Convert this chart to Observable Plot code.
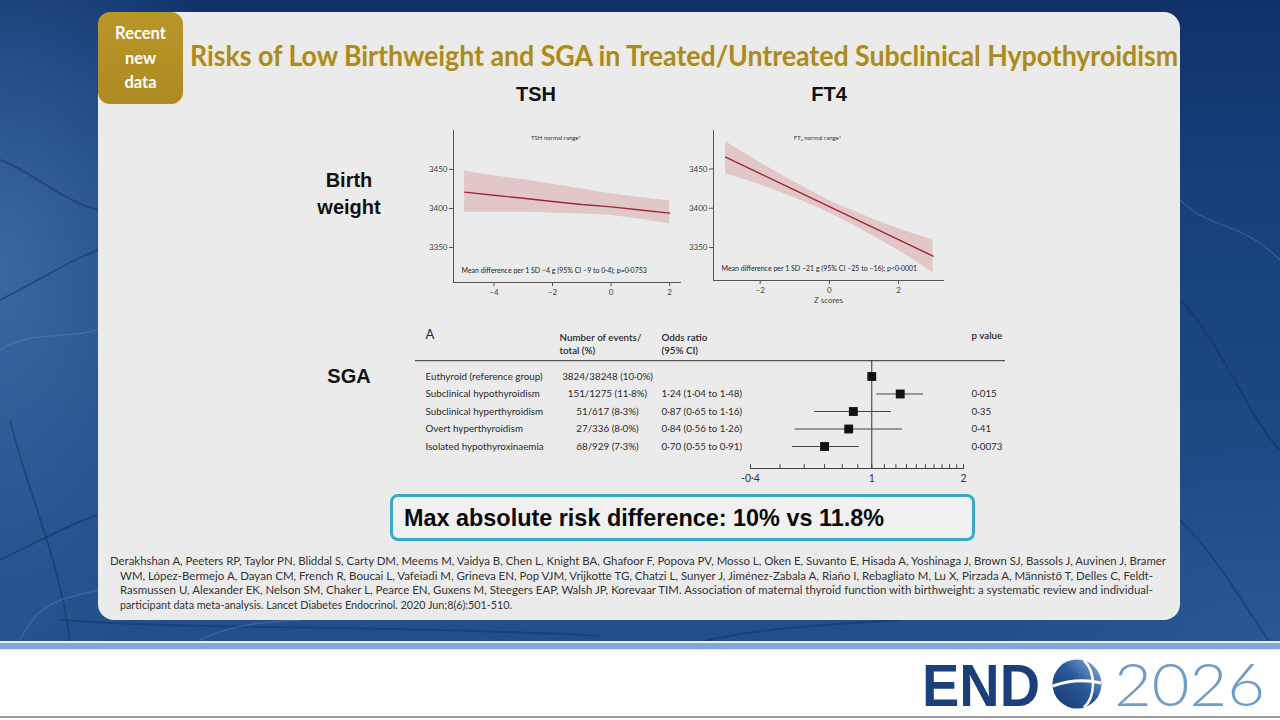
<!DOCTYPE html>
<html><head><meta charset="utf-8">
<script src="https://cdn.jsdelivr.net/npm/d3@7"></script>
<script src="https://cdn.jsdelivr.net/npm/@observablehq/plot@0.6"></script>
<style>
html,body{margin:0;padding:0;width:1280px;height:720px;overflow:hidden;background:#fff;}
body{position:relative;font-family:Lato,"Open Sans",sans-serif;}
.abs{position:absolute;}
#bg{left:0;top:0;width:1280px;height:642px;
 background:
  radial-gradient(ellipse 260px 420px at 0% 42%, rgba(70,115,175,0.75) 0%, rgba(60,100,160,0) 100%),
  radial-gradient(ellipse 300px 200px at 100% 100%, rgba(50,95,160,0.5) 0%, rgba(50,95,160,0) 100%),
  linear-gradient(180deg,#0f3268 0%,#17407a 30%,#1d4985 70%,#22508d 100%);}
#stripeW{left:0;top:641px;width:1280px;height:2px;background:#e8f0fa;}
#stripe{left:0;top:643px;width:1280px;height:6px;background:#7fa7d8;}
#stripeW2{left:0;top:649px;width:1280px;height:1px;background:#dfe9f5;}
#foot{left:0;top:716px;width:1280px;height:2px;background:#9a9a9a;}
#panel{left:98px;top:12px;width:1082px;height:608px;background:#ebebeb;border-radius:16px;}
#badge{left:98px;top:12px;width:85px;height:92px;border-radius:12px;
 background:linear-gradient(180deg,#b99628 0%,#ad8b21 100%);color:#fff;font-weight:700;
 font-size:16.5px;line-height:24.5px;text-align:center;box-sizing:border-box;padding-top:9px;}
.fit{white-space:nowrap;display:inline-block;transform-origin:left center;}
#title{left:190px;top:38px;font-weight:700;font-size:28px;color:#a88a2b;line-height:34px;
 text-shadow:0 0 2px rgba(255,235,140,0.9);}
.hd{font-family:"Liberation Sans",Arial,sans-serif;font-weight:700;font-size:20px;color:#111;text-align:center;}
#box{left:390px;top:494px;width:585px;height:47px;box-sizing:border-box;border:3.5px solid #38a9c7;border-radius:8px;background:#f1f1f1;}
#boxtxt{left:404px;top:504px;font-family:"Liberation Sans",Arial,sans-serif;font-weight:700;font-size:24px;color:#0a0a0a;line-height:28px;}
.cite{font-size:11.6px;color:#333;line-height:14px;}
</style></head>
<body>
<div id="bg" class="abs"></div>
<svg class="abs" style="left:0;top:0" width="1280" height="642" viewBox="0 0 1280 642">
 <g fill="none" stroke="#0f2f60" stroke-opacity="0.45" stroke-width="2">
  <path d="M0 300 C40 280 70 260 98 250"/>
  <path d="M10 420 C30 500 60 560 70 642"/>
  <path d="M0 560 C40 540 80 520 98 515"/>
  <path d="M60 620 C200 630 400 625 600 636"/>
  <path d="M700 642 C760 628 820 625 900 620"/>
  <path d="M1180 300 C1220 340 1250 420 1280 450"/>
  <path d="M1180 520 C1220 560 1240 600 1270 642"/>
  <path d="M0 160 C30 170 60 200 98 210"/>
 </g>
 <g fill="none" stroke="#6d95c8" stroke-opacity="0.3" stroke-width="1.5">
  <path d="M0 350 C30 330 60 340 98 330"/>
  <path d="M20 640 C40 600 60 600 98 590"/>
  <path d="M1180 200 C1210 230 1240 220 1280 260"/>
  <path d="M200 640 C230 625 260 622 300 620"/>
 </g>
</svg>
<div id="stripeW" class="abs"></div>
<div id="stripe" class="abs"></div>
<div id="stripeW2" class="abs"></div>
<div id="foot" class="abs"></div>
<div id="panel" class="abs"></div>
<div id="badge" class="abs">Recent<br>new<br>data</div>
<div id="title" class="abs"><span class="fit" data-w="988">Risks of Low Birthweight and SGA in Treated/Untreated Subclinical Hypothyroidism</span></div>

<div class="abs hd" style="left:486px;top:83px;width:100px;">TSH</div>
<div class="abs hd" style="left:779px;top:83px;width:100px;">FT4</div>
<div class="abs hd" style="left:289px;top:167px;width:120px;line-height:27px;">Birth<br>weight</div>
<div class="abs hd" style="left:289px;top:365px;width:120px;">SGA</div>

<div id="tsh" class="abs" style="left:400px;top:125px;"></div>
<div id="ft4" class="abs" style="left:685px;top:125px;"></div>
<div id="sga" class="abs" style="left:410px;top:325px;"></div>

<div id="box" class="abs"></div>
<div id="boxtxt" class="abs"><span class="fit" data-w="480">Max absolute risk difference: 10% vs 11.8%</span></div>

<div class="abs cite" style="left:110px;top:554px;"><span class="fit" data-w="1056">Derakhshan A, Peeters RP, Taylor PN, Bliddal S, Carty DM, Meems M, Vaidya B, Chen L, Knight BA, Ghafoor F, Popova PV, Mosso L, Oken E, Suvanto E, Hisada A, Yoshinaga J, Brown SJ, Bassols J, Auvinen J, Bramer</span></div>
<div class="abs cite" style="left:120px;top:569px;"><span class="fit" data-w="1033">WM, López-Bermejo A, Dayan CM, French R, Boucai L, Vafeiadi M, Grineva EN, Pop VJM, Vrijkotte TG, Chatzi L, Sunyer J, Jiménez-Zabala A, Riaño I, Rebagliato M, Lu X, Pirzada A, Männistö T, Delles C, Feldt-</span></div>
<div class="abs cite" style="left:120px;top:583px;"><span class="fit" data-w="1033">Rasmussen U, Alexander EK, Nelson SM, Chaker L, Pearce EN, Guxens M, Steegers EAP, Walsh JP, Korevaar TIM. Association of maternal thyroid function with birthweight: a systematic review and individual-</span></div>
<div class="abs cite" style="left:120px;top:598px;"><span class="fit" data-w="392">participant data meta-analysis. Lancet Diabetes Endocrinol. 2020 Jun;8(6):501-510.</span></div>

<svg class="abs" style="left:900px;top:640px" width="380" height="80" viewBox="0 0 380 80">
 <defs>
  <linearGradient id="gl" x1="0" y1="1" x2="1" y2="0">
   <stop offset="0" stop-color="#17386f"/><stop offset="0.55" stop-color="#2a5a9c"/><stop offset="1" stop-color="#8fb6de"/>
  </linearGradient>
 </defs>
 <text x="22" y="66" font-family="Liberation Sans, Arial" font-weight="700" font-size="59" fill="#1b3f7a" textLength="118" lengthAdjust="spacingAndGlyphs">END</text>
 <circle cx="177" cy="44" r="24.5" fill="url(#gl)"/>
 <path d="M153 46 C170 40 188 40 201 43" stroke="#fff" stroke-width="3" fill="none"/>
 <path d="M184 20.5 C196 32 196 56 184 67.5" stroke="#fff" stroke-width="2.5" fill="none"/>
 <text x="214" y="66" font-family="Lato, sans-serif" font-weight="300" font-size="59" fill="#6f9dc8" textLength="151" lengthAdjust="spacingAndGlyphs">2026</text>
</svg>

<script>
// ---------- Birth weight by TSH (z score) ----------
const tshZ   = [-5, -4, -3, -2, -1, 0, 1, 2];
const tshFit = [3421, 3417, 3413, 3409, 3405, 3402, 3398, 3394];
const tshLo  = [3395, 3395, 3395, 3394, 3393, 3391, 3386, 3380];
const tshHi  = [3448, 3442, 3437, 3431, 3425, 3419, 3414, 3410];
const tshXTicks = [-4, -2, 0, 2];
const tshNote = "TSH normal range*";
const tshStat = "Mean difference per 1 SD –4 g (95% CI –9 to 0·4); p=0·0753";

// ---------- Birth weight by FT4 (z score) ----------
const ft4Z   = [-3, -2, -1, 0, 1, 2, 3];
const ft4Fit = [3465, 3444, 3423, 3402, 3381, 3360, 3339];
const ft4Lo  = [3444, 3430, 3413, 3394, 3371, 3346, 3318];
const ft4Hi  = [3485, 3458, 3433, 3410, 3391, 3374, 3360];
const ft4XTicks = [-2, 0, 2];
const ft4Note = "FT₄ normal range*";
const ft4Stat = "Mean difference per 1 SD –21 g (95% CI –25 to –16); p<0·0001";
const ft4XLabel = "Z scores";

const bwTicks = [3350, 3400, 3450];

// ---------- SGA forest plot ----------
const sgaGroups = ["Euthyroid (reference group)", "Subclinical hypothyroidism", "Subclinical hyperthyroidism", "Overt hyperthyroidism", "Isolated hypothyroxinaemia"];
const sgaEvents = ["3824/38248 (10·0%)", "151/1275 (11·8%)", "51/617 (8·3%)", "27/336 (8·0%)", "68/929 (7·3%)"];
const sgaOR     = [1, 1.24, 0.87, 0.84, 0.70];
const sgaLo     = [null, 1.04, 0.65, 0.56, 0.55];
const sgaHi     = [null, 1.48, 1.16, 1.26, 0.91];
const sgaORText = ["", "1·24 (1·04 to 1·48)", "0·87 (0·65 to 1·16)", "0·84 (0·56 to 1·26)", "0·70 (0·55 to 0·91)"];
const sgaP      = ["", "0·015", "0·35", "0·41", "0·0073"];
const orTicks      = [0.4, 0.5, 0.6, 0.7, 0.8, 0.9, 1, 1.1, 1.2, 1.3, 1.4, 1.5, 1.6, 1.7, 1.8, 1.9, 2];
const orTickLabels = new Map([[0.4, "-0·4"], [1, "1"], [2, "2"]]);
const sgaHeaders = {panel: "A", events: ["Number of events/", "total (%)"], or: ["Odds ratio", "(95% CI)"], p: "p value"};

const FONT = "Lato, 'Open Sans', sans-serif";
const AX = "#555";
const intFmt = d => d < 0 ? "−" + (-d) : String(d);

function curve(el, o) {
  const rows = o.z.map((z, i) => ({z, fit: o.fit[i], lo: o.lo[i], hi: o.hi[i]}));
  const p = Plot.plot({
    width: o.width, height: o.height,
    marginLeft: o.ml, marginRight: o.mr, marginTop: o.mt, marginBottom: o.mb,
    style: {background: "transparent", fontFamily: FONT, color: "#444", overflow: "visible"},
    x: {domain: o.xDomain},
    y: {domain: o.yDomain},
    marks: [
      Plot.areaY(rows, {x: "z", y1: "lo", y2: "hi", fill: "#e2c7c9", curve: "monotone-x"}),
      Plot.lineY(rows, {x: "z", y: "fit", stroke: "#9c2838", strokeWidth: 1.4}),
      Plot.frame({anchor: "left", stroke: AX}),
      Plot.frame({anchor: "bottom", stroke: AX}),
      Plot.axisY({ticks: bwTicks, tickSize: 4, tickPadding: 2, fontSize: 8, stroke: AX, label: null, tickFormat: d => String(d)}),
      Plot.axisX({ticks: o.xTicks, tickSize: 4, tickPadding: 3, fontSize: 8, stroke: AX, tickFormat: intFmt,
        label: o.xLabel ?? null, labelAnchor: "center", labelArrow: "none", labelOffset: 22}),
      Plot.text([o.note], {frameAnchor: "top", dx: -11, dy: 5, fontSize: 6, fill: "#333"}),
      Plot.text([o.stat], {frameAnchor: "bottom-left", dx: 8, dy: -10, textAnchor: "start", fontSize: 7, fill: "#222"})
    ]
  });
  document.getElementById(el).appendChild(p);
}

curve("tsh", {z: tshZ, fit: tshFit, lo: tshLo, hi: tshHi, xTicks: tshXTicks, note: tshNote, stat: tshStat,
  width: 290, height: 180, ml: 53, mr: 10, mt: 5, mb: 23, xDomain: [-5.38, 2.37], yDomain: [3305, 3500]});
curve("ft4", {z: ft4Z, fit: ft4Fit, lo: ft4Lo, hi: ft4Hi, xTicks: ft4XTicks, note: ft4Note, stat: ft4Stat, xLabel: ft4XLabel,
  width: 270, height: 185, ml: 28, mr: 12, mt: 5, mb: 30, xDomain: [-3.35, 3.3], yDomain: [3308, 3499]});

// forest plot
const rows = sgaGroups.map((g, i) => ({i, g, ev: sgaEvents[i], or: sgaOR[i], lo: sgaLo[i], hi: sgaHi[i], ort: sgaORText[i], p: sgaP[i]}));
const yBottom = 5.257, yTop = -2.914, yRule = -0.91;
const txt = {frameAnchor: "left", fontSize: 9.8, fill: "#2a2a2a"};
const forest = Plot.plot({
  width: 600, height: 165, marginLeft: 340, marginRight: 47, marginTop: 0, marginBottom: 22,
  style: {background: "transparent", fontFamily: FONT, color: "#333", overflow: "visible"},
  x: {type: "log", domain: [0.4, 2]},
  y: {domain: [yBottom, yTop], axis: null},
  marks: [
    Plot.ruleY([yRule], {stroke: "#555", strokeWidth: 1.2, insetLeft: -335, insetRight: -42}),
    Plot.ruleX([1], {y1: yRule, y2: yBottom, stroke: "#333", strokeWidth: 1}),
    Plot.ruleY(rows.filter(d => d.lo != null), {y: "i", x1: "lo", x2: "hi", stroke: "#444", strokeWidth: 1}),
    Plot.dot(rows, {x: "or", y: "i", symbol: "square", fill: "#111", stroke: "none", r: 5}),
    Plot.frame({anchor: "bottom", stroke: "#444"}),
    Plot.ruleX(orTicks, {x: d => d, y1: yBottom, y2: yBottom - 0.22, stroke: "#444"}),
    Plot.axisX({ticks: [...orTickLabels.keys()], tickSize: 0, tickPadding: 6, fontSize: 10.5, label: null,
      tickFormat: d => orTickLabels.get(d)}),
    Plot.text(rows, {...txt, y: "i", text: "g", textAnchor: "start", dx: -325}),
    Plot.text(rows, {...txt, y: "i", text: "ev", textAnchor: "middle", dx: -143}),
    Plot.text(rows, {...txt, y: "i", text: "ort", textAnchor: "start", dx: -89}),
    Plot.text(rows, {...txt, y: "i", text: "p", textAnchor: "start", dx: 221}),
    Plot.text([sgaHeaders.panel], {...txt, y: () => -2.36, fontSize: 13, textAnchor: "start", dx: -325}),
    Plot.text([sgaHeaders.events.join("\n")], {...txt, y: () => -1.9, lineHeight: 1.4, fontWeight: 600, textAnchor: "start", dx: -191}),
    Plot.text([sgaHeaders.or.join("\n")], {...txt, y: () => -1.9, lineHeight: 1.4, fontWeight: 600, textAnchor: "start", dx: -89}),
    Plot.text([sgaHeaders.p], {...txt, y: () => -2.3, fontWeight: 600, textAnchor: "start", dx: 221})
  ]
});
document.getElementById("sga").appendChild(forest);

// fit text widths
document.querySelectorAll(".fit").forEach(s => {
  const w = s.getBoundingClientRect().width;
  s.style.transform = `scaleX(${(+s.dataset.w) / w})`;
});
</script>
</body></html>
